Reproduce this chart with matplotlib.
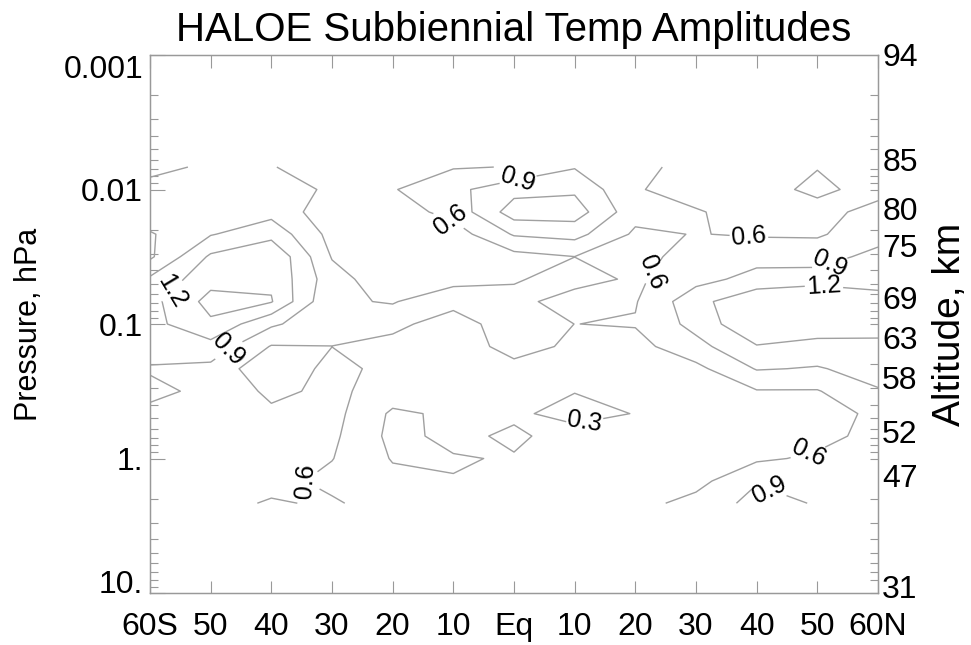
import numpy as np
import matplotlib
matplotlib.use('Agg')
import matplotlib.pyplot as plt

# Latitude columns and pressure rows (top of the data to bottom), hPa
lats = [-60, -50, -40, -30, -20, -10, 0, 10, 20, 30, 40, 50, 60]
pressures = [0.00681, 0.01, 0.0147, 0.0215, 0.0316, 0.0464, 0.0681, 0.1,
             0.147, 0.215, 0.316, 0.464, 0.681, 1.0, 1.47, 2.15]

# Subbiennial temperature amplitude (K), one row per pressure level
amplitude = [
    [0.50, 0.66, 0.61, 0.50, 0.50, 0.58, 0.61, 0.88, 0.68, 0.50, 0.50, 0.59, 0.50],
    [0.72, 0.78, 0.72, 0.56, 0.58, 0.82, 1.10, 1.15, 0.62, 0.50, 0.50, 0.66, 0.50],
    [0.80, 0.85, 0.80, 0.42, 0.45, 0.70, 1.35, 1.35, 0.70, 0.62, 0.50, 0.50, 0.70],
    [0.57, 0.88, 1.10, 0.50, 0.42, 0.45, 0.93, 1.00, 0.55, 0.61, 0.57, 0.58, 0.70],
    [0.55, 1.25, 1.48, 0.58, 0.40, 0.45, 0.50, 0.598, 0.50, 0.72, 0.80, 0.70, 1.05],
    [0.95, 1.40, 1.45, 0.72, 0.40, 0.55, 0.57, 0.72, 0.55, 0.80, 1.00, 1.12, 1.18],
    [1.10, 1.60, 1.52, 0.62, 0.59, 0.70, 0.70, 0.45, 0.58, 1.10, 1.45, 1.40, 1.22],
    [1.10, 1.45, 0.95, 0.68, 0.68, 0.45, 0.78, 0.598, 0.62, 1.00, 1.48, 1.45, 1.30],
    [1.00, 1.09, 0.58, 0.598, 0.50, 0.45, 0.70, 0.55, 0.50, 0.80, 1.18, 1.06, 1.14],
    [0.88, 0.82, 0.35, 0.70, 0.50, 0.45, 0.52, 0.40, 0.50, 0.52, 0.92, 0.88, 1.00],
    [0.95, 0.85, 0.53, 0.67, 0.46, 0.42, 0.40, 0.31, 0.45, 0.50, 0.58, 0.58, 0.88],
    [0.85, 0.78, 0.66, 0.70, 0.25, 0.35, 0.35, 0.20, 0.31, 0.45, 0.45, 0.50, 0.65],
    [0.80, 0.75, 0.72, 0.66, 0.22, 0.37, 0.25, 0.42, 0.42, 0.42, 0.45, 0.50, 0.70],
    [0.78, 0.75, 0.72, 0.61, 0.28, 0.28, 0.32, 0.40, 0.42, 0.42, 0.55, 0.65, 0.68],
    [0.75, 0.72, 0.70, 0.52, 0.38, 0.31, 0.33, 0.40, 0.45, 0.50, 0.88, 0.80, 0.70],
    [0.72, 0.70, 0.57, 0.64, 0.45, 0.40, 0.38, 0.40, 0.50, 0.70, 1.00, 0.88, 0.75],
]

levels = [0.3, 0.6, 0.9, 1.2, 1.5]
labelled_levels = [0.3, 0.6, 0.9, 1.2]

lat_ticks = [-60, -50, -40, -30, -20, -10, 0, 10, 20, 30, 40, 50, 60]
lat_labels = ['60S', '50', '40', '30', '20', '10', 'Eq', '10', '20', '30', '40', '50', '60N']
p_ticks = [0.001, 0.01, 0.1, 1, 10]
p_labels = ['0.001', '0.01', '0.1', '1.', '10.']
# altitude labels on the right and the pressure they sit at
alt_press = [0.001, 0.006, 0.0138, 0.026, 0.063, 0.125, 0.25, 0.63, 1.33, 9.0]
alt_labels = ['94', '85', '80', '75', '69', '63', '58', '52', '47', '31']

# where the contour labels sit (lat, hPa)
label_spots = [(-56.7, 0.056), (-47.1, 0.156), (-10.6, 0.0169), (0.7, 0.0085),
               (23.6, 0.042), (38.9, 0.020), (51.3, 0.032), (51.3, 0.047),
               (12.0, 0.58), (49.3, 1.03), (43.3, 1.50), (-35.3, 1.45)]

plt.rcParams['font.family'] = ['Liberation Sans', 'DejaVu Sans']
grey = '#999999'

fig = plt.figure(figsize=(9.71, 6.45), dpi=100)
ax = fig.add_axes([150 / 971, 1 - 593 / 645, 728 / 971, 538 / 645])

logp = np.log10(pressures)
cs = ax.contour(lats, logp, np.array(amplitude), levels=levels,
                colors='#a0a0a0', linewidths=1.0)
spots = [(la, np.log10(p)) for la, p in label_spots]
ax.clabel(cs, levels=labelled_levels, fmt='%.1f', fontsize=18, colors='black',
          manual=spots, inline=True, inline_spacing=2)

ax.set_xlim(-60, 60)
ax.set_ylim(1, -3)
ax.set_xticks(lat_ticks)
ax.set_xticklabels(lat_labels)
ax.set_yticks(np.log10(p_ticks))
ylabs = ax.set_yticklabels(p_labels)
ylabs[0].set_va('top')
ylabs[-1].set_va('baseline')

minor = []
for dec in [0.001, 0.01, 0.1, 1]:
    for k in range(2, 10):
        minor.append(np.log10(k * dec))
ax.set_yticks(minor, minor=True)

ax.tick_params(axis='x', direction='in', top=True, length=9, width=0.8,
               color=grey, labelsize=23, pad=14)
ax.tick_params(axis='y', direction='in', right=False, length=11, width=0.8,
               color=grey, labelsize=23, pad=5)
ax.tick_params(axis='y', which='minor', direction='in', right=False, length=6,
               width=0.8, color=grey)
for s in ax.spines.values():
    s.set_color(grey)
    s.set_linewidth(1.0)

ax2 = ax.twinx()
ax2.set_ylim(1, -3)
ax2.set_yticks(np.log10(alt_press))
ax2.set_yticklabels(alt_labels)
ax2.set_yticks(minor + list(np.log10(p_ticks)), minor=True)
ax2.tick_params(axis='y', direction='in', length=0, labelsize=23, pad=3)
ax2.tick_params(axis='y', which='minor', direction='in', length=6, width=0.8,
                color=grey)
for s in ax2.spines.values():
    s.set_color(grey)

ax.set_ylabel('Pressure, hPa', fontsize=22)
ax.yaxis.set_label_coords(-0.146, 0.5)
ax2.set_ylabel('Altitude, km', fontsize=28)
ax2.yaxis.set_label_coords(1.074, 0.5)
ax.set_title('HALOE Subbiennial Temp Amplitudes', fontsize=29, pad=10)

fig.savefig('out.png', dpi=100)
